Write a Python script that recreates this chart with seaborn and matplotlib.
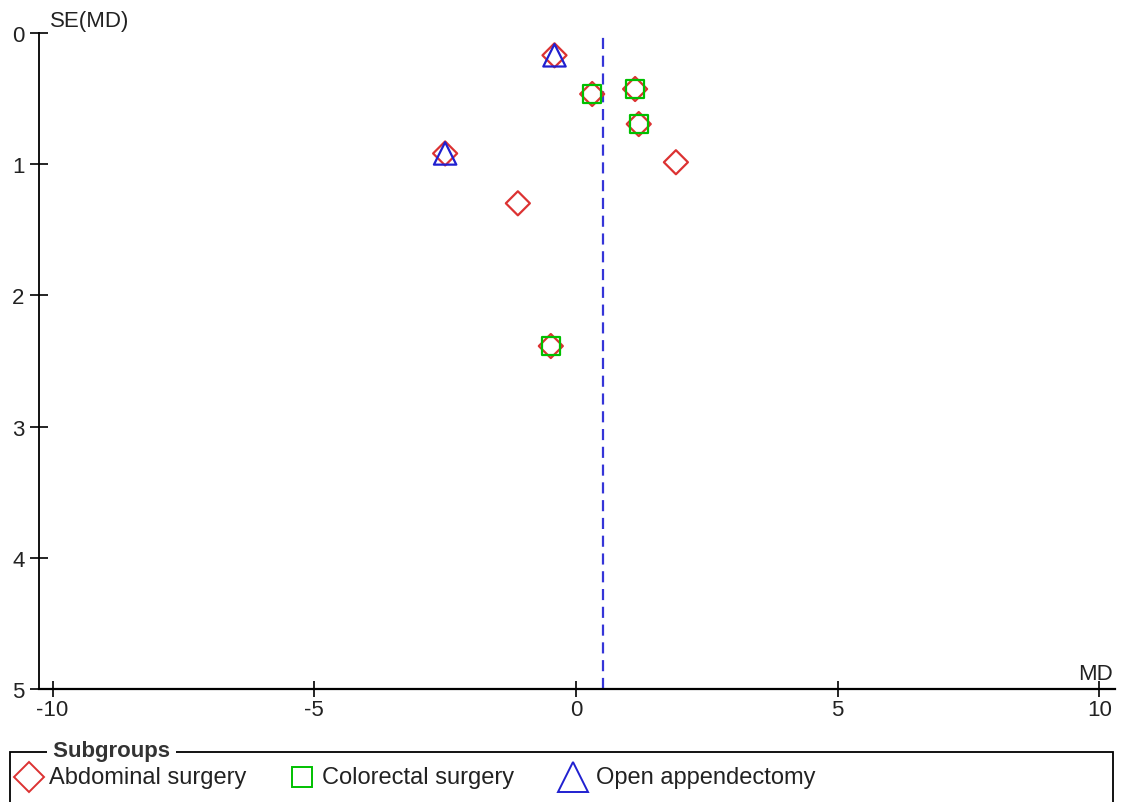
import matplotlib
matplotlib.use("Agg")
import matplotlib.pyplot as plt
from matplotlib.lines import Line2D
from matplotlib.patches import Rectangle
import seaborn as sns
import pandas as pd

# Study estimates (mean difference) and their standard errors, by subgroup
abdominal_md = [-0.41, 0.31, 1.13, 1.20, 1.91, -2.50, -1.11, -0.48]
abdominal_se = [0.17, 0.465, 0.427, 0.694, 0.985, 0.918, 1.298, 2.386]
colorectal_md = [0.31, 1.13, 1.20, -0.48]
colorectal_se = [0.465, 0.427, 0.694, 2.386]
appendectomy_md = [-0.41, -2.50]
appendectomy_se = [0.17, 0.918]
pooled_md = 0.51

subgroups = ["Abdominal surgery", "Colorectal surgery", "Open appendectomy"]
x_ticks = [-10, -5, 0, 5, 10]
y_ticks = [0, 1, 2, 3, 4, 5]

df = pd.concat([
    pd.DataFrame({"MD": abdominal_md, "SE": abdominal_se, "group": subgroups[0]}),
    pd.DataFrame({"MD": colorectal_md, "SE": colorectal_se, "group": subgroups[1]}),
    pd.DataFrame({"MD": appendectomy_md, "SE": appendectomy_se, "group": subgroups[2]}),
], ignore_index=True)

sns.set_theme(style="white")
plt.rcParams["font.family"] = ["Liberation Sans", "DejaVu Sans"]

styles = {
    subgroups[0]: dict(marker="D", s=150, color="#dc3232", legend_ms=15.5),
    subgroups[1]: dict(marker="s", s=165, color="#00c000", legend_ms=14.5),
    subgroups[2]: dict(marker="^", s=260, color="#2020d0", legend_ms=22),
}

W, H = 1121, 803
fig = plt.figure(figsize=(W / 100, H / 100), dpi=100)
ax = fig.add_axes([39 / W, (H - 690) / H, (1115 - 39) / W, (690 - 34) / H])

for g in subgroups:
    st = styles[g]
    sns.scatterplot(data=df[df["group"] == g], x="MD", y="SE", ax=ax,
                    marker=st["marker"], s=st["s"], facecolor="none",
                    edgecolor=st["color"], linewidth=1.6, legend=False, zorder=3)

ax.axvline(pooled_md, color="#3535d8", lw=1.6, ls=(0, (5, 3)), zorder=2)

ax.set_xlim(-10.26, 10.30)
ax.set_ylim(5, 0)
ax.set_xticks(x_ticks)
ax.set_yticks(y_ticks)
ax.set_xticklabels([str(v) for v in x_ticks])
ax.set_yticklabels([str(v) for v in y_ticks])
ax.set_xlabel("")
ax.set_ylabel("")

for side in ("top", "right"):
    ax.spines[side].set_visible(False)
for side in ("left", "bottom"):
    ax.spines[side].set_color("black")
ax.spines["left"].set_linewidth(1.3)
ax.spines["bottom"].set_linewidth(1.6)
ax.tick_params(axis="both", direction="inout", width=1.2, color="black",
               labelsize=16, labelcolor="#222222", bottom=True, left=True)
ax.tick_params(axis="x", length=11, pad=2)
ax.tick_params(axis="y", length=13, pad=4)

ax.text(0.01, 1.003, "SE(MD)", transform=ax.transAxes, ha="left", va="bottom",
        fontsize=16, color="#222222")
ax.text(0.998, 0.008, "MD", transform=ax.transAxes, ha="right", va="bottom",
        fontsize=16, color="#222222")

# Legend box with the title set into its top border
fig.patches.append(Rectangle((10 / W, -0.05), (1113 - 10) / W, (H - 753) / H + 0.05,
                             transform=fig.transFigure, fill=False,
                             edgecolor="black", lw=1.3))
fig.text(47 / W, (H - 752) / H, " Subgroups ", ha="left", va="center",
         fontsize=16, fontweight="bold", color="#333333",
         bbox=dict(facecolor="white", edgecolor="none", pad=0))

legend_marker_x = [28.5, 302, 573.5]
legend_text_x = [49, 322, 596]
legend_y = (H - 778) / H
for g, mx, tx in zip(subgroups, legend_marker_x, legend_text_x):
    st = styles[g]
    fig.lines.append(Line2D([mx / W], [legend_y], transform=fig.transFigure,
                            ls="none", marker=st["marker"], markersize=st["legend_ms"],
                            markerfacecolor="none", markeredgecolor=st["color"],
                            markeredgewidth=1.4))
    fig.text(tx / W, legend_y, g, ha="left", va="center", fontsize=17,
             color="#222222")

fig.savefig("out.png", dpi=100)
